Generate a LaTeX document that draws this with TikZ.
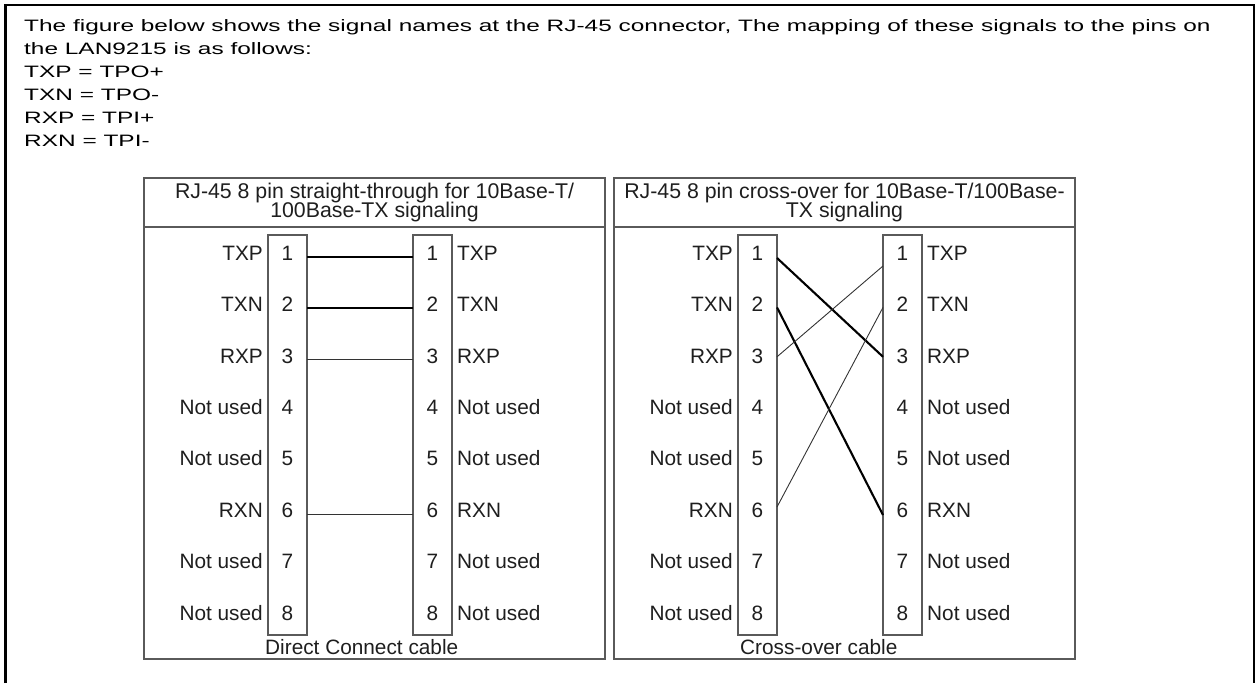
\documentclass[tikz,border=0pt]{standalone}
\usepackage{fontspec}
\setmainfont{Liberation Sans}
\newfontfamily\wideface{Liberation Sans}[FakeStretch=1.48]
\usetikzlibrary{positioning}

\definecolor{boxgray}{HTML}{5A5A5A}
\definecolor{inkgray}{HTML}{1E1E1E}

\tikzset{
    panel/.style={draw=boxgray, line width=1.6pt},
    pinbox/.style={draw=boxgray, line width=1.5pt},
    pintext/.style={font=\fontsize{20.8}{22}\selectfont, text=inkgray, inner sep=0pt},
    headtext/.style={font=\fontsize{21.3}{22}\selectfont, text=inkgray, inner sep=0pt, anchor=base},
    thickwire/.style={line width=2.1pt, draw=black},
    thinwire/.style={line width=0.9pt, draw=black!80}
}

\begin{document}
\begin{tikzpicture}[x=1pt, y=-1pt]
        \useasboundingbox (0,0) rectangle (1256,683);

        %frame
        \draw[line width=2.5pt] (5.5,683) -- (5.5,5) -- (1254,5) -- (1254,683);

        %intro text
        \node[anchor=north west, align=left, inner sep=0pt,
              font=\wideface\fontsize{16.5}{23}\selectfont] (intro) at (24,19)
            {The figure below shows the signal names at the RJ-45 connector, The mapping of these signals to the pins on\\
             the LAN9215 is as follows:\\
             TXP = TPO+\\
             TXN = TPO-\\
             RXP = TPI+\\
             RXN = TPI-};

        %panels
        \foreach \p/\dx in {l/0, r/470} {
            \draw[panel] (144+\dx,178) rectangle (605+\dx,659);
            \draw[panel] (144+\dx,227) -- (605+\dx,227);
            \draw[pinbox] (268+\dx,235) rectangle (307+\dx,635);
            \draw[pinbox] (413+\dx,235) rectangle (452+\dx,635);
            \foreach \i/\sig in {1/TXP, 2/TXN, 3/RXP, 4/Not used, 5/Not used, 6/RXN, 7/Not used, 8/Not used} {
                \pgfmathsetmacro{\rowy}{253+51.4*(\i-1)}
                \node[pintext, anchor=base east] (\p sigl\i) at (263+\dx,\rowy+7.2) {\sig};
                \node[pintext, anchor=base] (\p numl\i) at (287.5+\dx,\rowy+7.2) {\i};
                \node[pintext, anchor=base] (\p numr\i) at (432.5+\dx,\rowy+7.2) {\i};
                \node[pintext, anchor=base west] (\p sigr\i) at (457+\dx,\rowy+7.2) {\sig};
                \coordinate (\p a\i) at (307+\dx,\rowy);
                \coordinate (\p b\i) at (413+\dx,\rowy);
            }
        }

        %headers
        \node[headtext] (lhead1) at (374.5,198) {RJ-45 8 pin straight-through for 10Base-T/};
        \node[headtext] (lhead2) at (374.5,217) {100Base-TX signaling};
        \node[headtext] (rhead1) at (844.5,198) {RJ-45 8 pin cross-over for 10Base-T/100Base-};
        \node[headtext] (rhead2) at (844.5,217) {TX signaling};

        %footers
        \node[pintext, anchor=base west] (lfoot) at (265,654) {Direct Connect cable};
        \node[pintext, anchor=base west] (rfoot) at (740,654) {Cross-over cable};

        %straight-through wires
        \draw[thickwire] ([yshift=-4pt]la1) -- ([yshift=-4pt]lb1);
        \draw[thickwire] ([yshift=-4pt]la2) -- ([yshift=-4pt]lb2);
        \draw[thinwire] ([yshift=-4pt]la3) -- ([yshift=-4pt]lb3);
        \draw[thinwire] ([yshift=-4pt]la6) -- ([yshift=-4pt]lb6);

        %cross-over wires
        \draw[thickwire] ([yshift=-5pt]ra1) -- ([yshift=-1pt]rb3);
        \draw[thickwire] ([yshift=-3pt]ra2) -- ([yshift=-5pt]rb6);
        \draw[thinwire] ([yshift=-1pt]ra3) -- ([yshift=-13pt]rb1);
        \draw[thinwire] ([yshift=3pt]ra6) -- ([yshift=-3pt]rb2);
    \end{tikzpicture}
\end{document}
